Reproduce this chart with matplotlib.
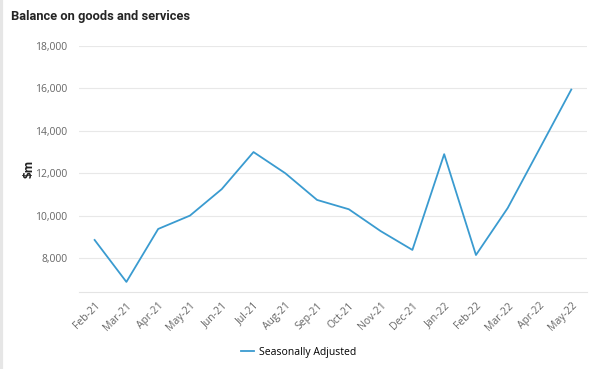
import matplotlib.pyplot as plt
from matplotlib.lines import Line2D

plt.rcParams['font.family'] = ['Open Sans', 'DejaVu Sans']

# Monthly balance on goods and services ($m), seasonally adjusted
months = ["Feb-21", "Mar-21", "Apr-21", "May-21", "Jun-21", "Jul-21", "Aug-21", "Sep-21",
          "Oct-21", "Nov-21", "Dec-21", "Jan-22", "Feb-22", "Mar-22", "Apr-22", "May-22"]
balance = [8850, 6870, 9370, 10000, 11250, 13000, 12000, 10740,
           10300, 9270, 8380, 12900, 8140, 10360, 13150, 15950]
y_ticks = [8000, 10000, 12000, 14000, 16000, 18000]

line_color = "#3a9bd0"
grey_text = "#666666"

fig = plt.figure(figsize=(6.01, 3.69), dpi=100)
ax = fig.add_axes([0.131, 0.209, 0.846, 0.666])

x = list(range(len(months)))
ax.plot(x, balance, color=line_color, linewidth=1.3)

ax.set_xlim(-0.5, len(months) - 0.5)
ax.set_ylim(6400, 18000)
ax.set_yticks(y_ticks)
ax.set_yticklabels([f"{v:,}" for v in y_ticks], fontsize=7.5, color=grey_text)
ax.set_xticks(x)
ax.set_xticklabels(months, rotation=45, ha="right", rotation_mode="anchor",
                   fontsize=7.5, color=grey_text)
ax.tick_params(axis="both", length=0, pad=8)
ax.tick_params(axis="x", pad=6)

ax.grid(axis="y", color="#e8e8e8", linewidth=0.8)
ax.set_axisbelow(True)
for side in ["top", "right", "left"]:
    ax.spines[side].set_visible(False)
ax.spines["bottom"].set_color("#e4e4e4")

ax.set_ylabel("$m", fontsize=8.5, fontweight="bold", color="#222222", va="center")
ax.yaxis.set_label_coords(-0.098, 0.5)

fig.text(0.018, 0.955, "Balance on goods and services", fontsize=9.3,
         fontweight="bold", color="#252525", va="center",
         family=["Roboto", "DejaVu Sans"])

# thin grey border on the left edge of the card
fig.add_artist(Line2D([0.002, 0.002], [0, 1], color="#e6e6e6", linewidth=3,
                      transform=fig.transFigure))

handle = Line2D([], [], color=line_color, linewidth=1.3)
fig.legend([handle], ["Seasonally Adjusted"], loc="center", bbox_to_anchor=(0.497, 0.045),
           frameon=False, fontsize=7.5, handlelength=1.2, handletextpad=0.5)

fig.savefig("out.png", dpi=100)
